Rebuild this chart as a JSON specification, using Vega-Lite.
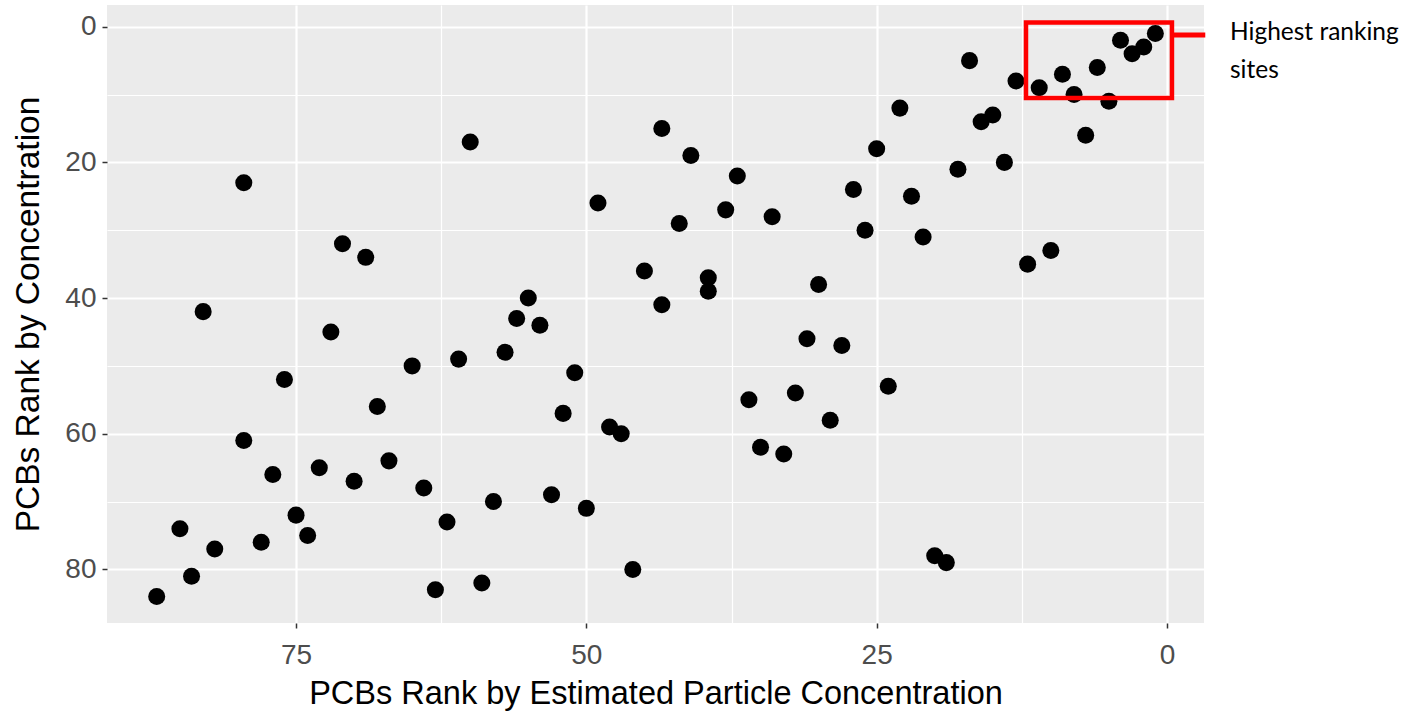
{
  "$schema": "https://vega.github.io/schema/vega-lite/v6.json",
  "width": 1097,
  "height": 618,
  "autosize": {"type": "none"},
  "padding": {"left": 107, "top": 5, "right": 209, "bottom": 90},
  "background": "white",
  "config": {
    "view": {"fill": "#EBEBEB", "stroke": null},
    "font": "Liberation Sans"
  },
  "layer": [
    {
      "data": {
        "values": [
          {"est_rank": 79.5, "conc_rank": 23}, {"est_rank": 71, "conc_rank": 32}, {"est_rank": 69, "conc_rank": 34},
          {"est_rank": 83, "conc_rank": 42}, {"est_rank": 60, "conc_rank": 17}, {"est_rank": 49, "conc_rank": 26},
          {"est_rank": 43.5, "conc_rank": 15}, {"est_rank": 45, "conc_rank": 36}, {"est_rank": 55, "conc_rank": 40},
          {"est_rank": 43.5, "conc_rank": 41}, {"est_rank": 41, "conc_rank": 19}, {"est_rank": 37, "conc_rank": 22},
          {"est_rank": 38, "conc_rank": 27}, {"est_rank": 42, "conc_rank": 29}, {"est_rank": 34, "conc_rank": 28},
          {"est_rank": 39.5, "conc_rank": 37}, {"est_rank": 39.5, "conc_rank": 39}, {"est_rank": 30, "conc_rank": 38},
          {"est_rank": 23, "conc_rank": 12}, {"est_rank": 25, "conc_rank": 18}, {"est_rank": 27, "conc_rank": 24},
          {"est_rank": 22, "conc_rank": 25}, {"est_rank": 26, "conc_rank": 30}, {"est_rank": 21, "conc_rank": 31},
          {"est_rank": 17, "conc_rank": 5}, {"est_rank": 13, "conc_rank": 8}, {"est_rank": 11, "conc_rank": 9},
          {"est_rank": 9, "conc_rank": 7}, {"est_rank": 8, "conc_rank": 10}, {"est_rank": 6, "conc_rank": 6},
          {"est_rank": 5, "conc_rank": 11}, {"est_rank": 4, "conc_rank": 2}, {"est_rank": 3, "conc_rank": 4},
          {"est_rank": 2, "conc_rank": 3}, {"est_rank": 1, "conc_rank": 1}, {"est_rank": 7, "conc_rank": 16},
          {"est_rank": 16, "conc_rank": 14}, {"est_rank": 15, "conc_rank": 13}, {"est_rank": 18, "conc_rank": 21},
          {"est_rank": 14, "conc_rank": 20}, {"est_rank": 12, "conc_rank": 35}, {"est_rank": 10, "conc_rank": 33},
          {"est_rank": 72, "conc_rank": 45}, {"est_rank": 76, "conc_rank": 52}, {"est_rank": 68, "conc_rank": 56},
          {"est_rank": 79.5, "conc_rank": 61}, {"est_rank": 77, "conc_rank": 66}, {"est_rank": 73, "conc_rank": 65},
          {"est_rank": 70, "conc_rank": 67}, {"est_rank": 75, "conc_rank": 72}, {"est_rank": 74, "conc_rank": 75},
          {"est_rank": 85, "conc_rank": 74}, {"est_rank": 82, "conc_rank": 77}, {"est_rank": 78, "conc_rank": 76},
          {"est_rank": 84, "conc_rank": 81}, {"est_rank": 87, "conc_rank": 84}, {"est_rank": 56, "conc_rank": 43},
          {"est_rank": 54, "conc_rank": 44}, {"est_rank": 57, "conc_rank": 48}, {"est_rank": 61, "conc_rank": 49},
          {"est_rank": 65, "conc_rank": 50}, {"est_rank": 51, "conc_rank": 51}, {"est_rank": 52, "conc_rank": 57},
          {"est_rank": 48, "conc_rank": 59}, {"est_rank": 47, "conc_rank": 60}, {"est_rank": 67, "conc_rank": 64},
          {"est_rank": 64, "conc_rank": 68}, {"est_rank": 58, "conc_rank": 70}, {"est_rank": 53, "conc_rank": 69},
          {"est_rank": 50, "conc_rank": 71}, {"est_rank": 62, "conc_rank": 73}, {"est_rank": 46, "conc_rank": 80},
          {"est_rank": 63, "conc_rank": 83}, {"est_rank": 59, "conc_rank": 82}, {"est_rank": 31, "conc_rank": 46},
          {"est_rank": 28, "conc_rank": 47}, {"est_rank": 36, "conc_rank": 55}, {"est_rank": 32, "conc_rank": 54},
          {"est_rank": 24, "conc_rank": 53}, {"est_rank": 29, "conc_rank": 58}, {"est_rank": 35, "conc_rank": 62},
          {"est_rank": 33, "conc_rank": 63}, {"est_rank": 20, "conc_rank": 78}, {"est_rank": 19, "conc_rank": 79}
        ]
      },
      "mark": {"type": "circle", "size": 290, "color": "black", "opacity": 1},
      "encoding": {
        "x": {
          "field": "est_rank",
          "type": "quantitative",
          "title": "PCBs Rank by Estimated Particle Concentration",
          "scale": {"domain": [-3.19, 91.28], "reverse": true, "nice": false, "zero": false},
          "axis": {
            "values": [0, 12.5, 25, 37.5, 50, 62.5, 75],
            "format": "d",
            "domain": false,
            "gridColor": "white",
            "gridWidth": {"condition": {"test": "datum.value % 25 === 0", "value": 2.2}, "value": 1.2},
            "tickColor": "#333333",
            "tickSize": 5,
            "tickWidth": 1.5,
            "tickOpacity": {"condition": {"test": "datum.value % 25 === 0", "value": 1}, "value": 0},
            "labelExpr": "datum.value % 25 === 0 ? datum.label : ''",
            "labelColor": "#4D4D4D",
            "labelFont": "Liberation Sans",
            "labelFontSize": 28,
            "labelPadding": 13,
            "labelFlush": false,
            "labelOverlap": false,
            "titleFont": "Liberation Sans",
            "titleFontSize": 32.5,
            "titleFontWeight": "normal",
            "titleColor": "black",
            "titlePadding": 8
          }
        },
        "y": {
          "field": "conc_rank",
          "type": "quantitative",
          "title": "PCBs Rank by Concentration",
          "scale": {"domain": [-3.2, 87.9], "reverse": true, "nice": false, "zero": false},
          "axis": {
            "values": [0, 10, 20, 30, 40, 50, 60, 70, 80],
            "format": "d",
            "domain": false,
            "gridColor": "white",
            "gridWidth": {"condition": {"test": "datum.value % 20 === 0", "value": 2.2}, "value": 1.2},
            "tickColor": "#333333",
            "tickSize": 5,
            "tickWidth": 1.5,
            "tickOpacity": {"condition": {"test": "datum.value % 20 === 0", "value": 1}, "value": 0},
            "labelExpr": "datum.value % 20 === 0 ? datum.label : ''",
            "labelColor": "#4D4D4D",
            "labelFont": "Liberation Sans",
            "labelFontSize": 28,
            "labelPadding": 6,
            "labelFlush": false,
            "labelOverlap": false,
            "titleFont": "Liberation Sans",
            "titleFontSize": 33.5,
            "titleFontWeight": "normal",
            "titleColor": "black",
            "titlePadding": 19
          }
        }
      }
    },
    {
      "data": {"values": [{}]},
      "mark": {"type": "rect", "filled": false, "stroke": "#FF0000", "strokeWidth": 4.5},
      "encoding": {
        "x": {"datum": 12.14, "type": "quantitative"},
        "x2": {"datum": -0.43},
        "y": {"datum": -0.62, "type": "quantitative"},
        "y2": {"datum": 10.51}
      }
    },
    {
      "data": {"values": [{}]},
      "mark": {"type": "rule", "stroke": "#FF0000", "strokeWidth": 5},
      "encoding": {
        "x": {"datum": -0.43, "type": "quantitative"},
        "x2": {"datum": -3.3},
        "y": {"datum": 1.22, "type": "quantitative"}
      }
    },
    {
      "data": {"values": [{}]},
      "mark": {
        "type": "text",
        "text": ["Highest ranking", "sites"],
        "align": "left",
        "baseline": "alphabetic",
        "font": "Lato",
        "fontSize": 24.5,
        "lineHeight": 38,
        "color": "black"
      },
      "encoding": {
        "x": {"datum": -5.43, "type": "quantitative"},
        "y": {"datum": 1.96, "type": "quantitative"}
      }
    }
  ]
}
